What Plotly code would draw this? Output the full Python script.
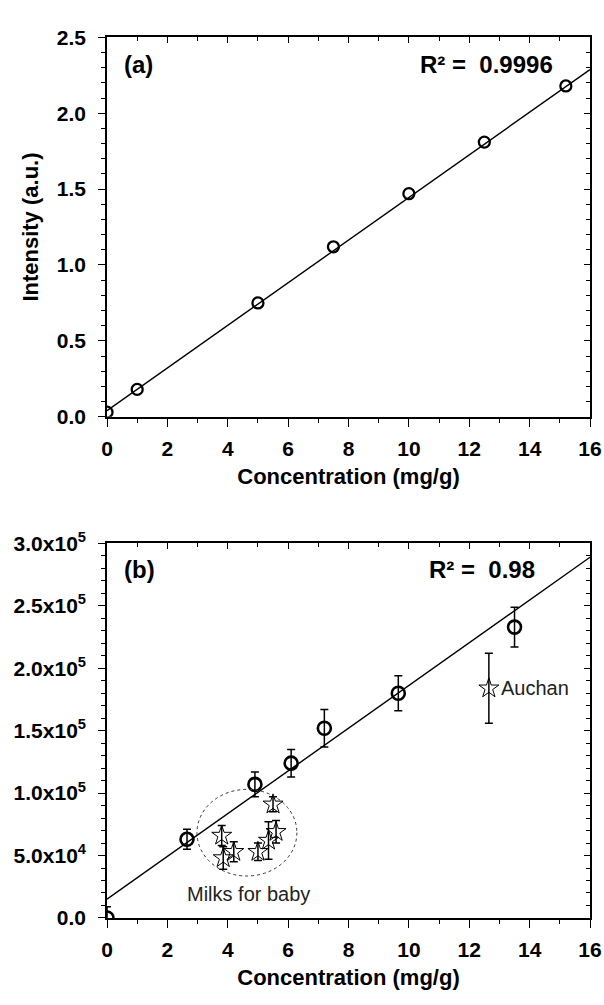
import plotly.graph_objects as go

# ---------------- data ----------------
# Panel (a): calibration
a_conc = [0, 1, 5, 7.5, 10, 12.5, 15.2]
a_intensity = [0.03, 0.18, 0.75, 1.12, 1.47, 1.81, 2.18]
a_fit = {"slope": 0.1405, "intercept": 0.04}
a_r2 = "0.9996"

# Panel (b): standard additions (circles)
b_conc = [0, 2.65, 4.9, 6.1, 7.2, 9.65, 13.5]
b_intensity = [0, 63000, 107000, 124000, 152000, 180000, 233000]
b_err = [9000, 8000, 10000, 11000, 15000, 14000, 16000]
b_fit = {"slope": 17125, "intercept": 15000}
b_r2 = "0.98"

# Panel (b): milk samples (stars)
milk_conc = [3.8, 3.85, 4.2, 5.0, 5.35, 5.6, 5.5]
milk_intensity = [66000, 48000, 53000, 53000, 62000, 69000, 91000]
milk_err = [8000, 9000, 8000, 7000, 15000, 9000, 6000]

auchan_conc = [12.65]
auchan_intensity = [184000]
auchan_err = [28000]

milk_region_x = [2.98, 6.29]
milk_region_y = [33600, 103000]

x_range = [0, 16]
a_yticks = [0.0, 0.5, 1.0, 1.5, 2.0, 2.5]
a_yticklabels = ["0.0", "0.5", "1.0", "1.5", "2.0", "2.5"]
b_yticks = [0, 50000, 100000, 150000, 200000, 250000, 300000]
b_yticklabels = ["0.0", "5.0x10<sup>4</sup>", "1.0x10<sup>5</sup>", "1.5x10<sup>5</sup>",
                 "2.0x10<sup>5</sup>", "2.5x10<sup>5</sup>", "3.0x10<sup>5</sup>"]
x_ticks = [0, 2, 4, 6, 8, 10, 12, 14, 16]

# ---------------- styling ----------------
FONT = "Liberation Sans, Arial, Helvetica, sans-serif"
W, H = 604, 1005
L, R = 107, 14
a_top, a_bot = 24, 413
b_top, b_bot = 543, 927
a_dom = [1 - a_bot / H, 1 - a_top / H]
b_dom = [1 - b_bot / H, 1 - b_top / H]

fig = go.Figure()

# panel (a)
fit_x = x_range
fig.add_trace(go.Scatter(
    x=fit_x, y=[a_fit["intercept"] + a_fit["slope"] * v for v in fit_x],
    mode="lines", line=dict(color="black", width=1.4),
    xaxis="x", yaxis="y", showlegend=False, hoverinfo="skip"))
fig.add_trace(go.Scatter(
    x=a_conc, y=a_intensity, mode="markers",
    marker=dict(symbol="circle-open", size=11, color="black", line=dict(width=2.3, color="black")),
    xaxis="x", yaxis="y", showlegend=False))

# panel (b)
fig.add_trace(go.Scatter(
    x=fit_x, y=[b_fit["intercept"] + b_fit["slope"] * v for v in fit_x],
    mode="lines", line=dict(color="black", width=1.4),
    xaxis="x2", yaxis="y2", showlegend=False, hoverinfo="skip"))
err_style = dict(type="data", thickness=1.5, width=4, color="black", visible=True)
fig.add_trace(go.Scatter(
    x=b_conc, y=b_intensity, mode="markers",
    error_y=dict(array=b_err, **err_style),
    marker=dict(symbol="circle-open", size=13, color="black", line=dict(width=2.6, color="black")),
    xaxis="x2", yaxis="y2", showlegend=False))
fig.add_trace(go.Scatter(
    x=milk_conc, y=milk_intensity, mode="markers",
    error_y=dict(array=milk_err, **err_style),
    marker=dict(symbol="star-open", size=15, color="black", line=dict(width=1, color="black")),
    xaxis="x2", yaxis="y2", showlegend=False))
fig.add_trace(go.Scatter(
    x=auchan_conc, y=auchan_intensity, mode="markers",
    error_y=dict(array=auchan_err, **err_style),
    marker=dict(symbol="star-open", size=15, color="black", line=dict(width=1, color="black")),
    xaxis="x2", yaxis="y2", showlegend=False))

# dummy traces for mirrored (inside-tick) axes
fig.add_trace(go.Scatter(x=[], y=[], xaxis="x3", yaxis="y3", showlegend=False))
fig.add_trace(go.Scatter(x=[], y=[], xaxis="x4", yaxis="y4", showlegend=False))

tickfont = dict(family=FONT, size=21, color="black")
titlefont = dict(family=FONT, size=22, color="black")


def bottom_x(dom_anchor, title):
    return dict(range=x_range, domain=[0, 1], anchor=dom_anchor,
                tickmode="array", tickvals=x_ticks, ticktext=["<b>%d</b>" % v for v in x_ticks],
                ticks="outside", ticklen=8, tickwidth=1.3, tickcolor="black",
                minor=dict(dtick=1, tick0=0, ticks="outside", ticklen=4, tickwidth=1.1, tickcolor="black"),
                showline=True, linecolor="black", linewidth=1.6, showgrid=False, zeroline=False,
                tickfont=tickfont, ticklabelstandoff=4,
                title=dict(text="<b>" + title + "</b>", font=titlefont, standoff=10))


def top_x(over, anchor):
    return dict(range=x_range, overlaying=over, anchor=anchor, side="top",
                tickmode="array", tickvals=x_ticks, showticklabels=False,
                ticks="inside", ticklen=6, tickwidth=1.1, tickcolor="black",
                minor=dict(dtick=1, tick0=0, ticks="inside", ticklen=4, tickwidth=1.0, tickcolor="black"),
                showline=True, linecolor="black", linewidth=1.6, showgrid=False, zeroline=False)


def right_y(over, anchor, dom, rng, vals, mdt):
    return dict(domain=dom, range=rng, overlaying=over, anchor=anchor, side="right",
                tickmode="array", tickvals=vals, showticklabels=False,
                ticks="inside", ticklen=6, tickwidth=1.1, tickcolor="black",
                minor=dict(dtick=mdt, tick0=0, ticks="inside", ticklen=4, tickwidth=1.0, tickcolor="black"),
                showline=True, linecolor="black", linewidth=1.6, showgrid=False, zeroline=False)


fig.update_layout(
    width=W, height=H,
    margin=dict(l=L, r=R, t=0, b=0),
    plot_bgcolor="white", paper_bgcolor="white",
    font=dict(family=FONT, color="black"),
    xaxis=bottom_x("y", "Concentration (mg/g)"),
    xaxis2=bottom_x("y2", "Concentration (mg/g)"),
    xaxis3=top_x("x", "y"),
    xaxis4=top_x("x2", "y2"),
    yaxis=dict(domain=a_dom, range=[0, 2.5], anchor="x",
               tickmode="array", tickvals=a_yticks, ticktext=["<b>%s</b>" % t for t in a_yticklabels],
               ticks="outside", ticklen=7, tickwidth=1.3, tickcolor="black",
               minor=dict(dtick=0.1, tick0=0, ticks="outside", ticklen=4, tickwidth=1.0, tickcolor="black"),
               showline=True, linecolor="black", linewidth=1.6, showgrid=False, zeroline=False,
               tickfont=tickfont, ticklabelstandoff=8,
               title=dict(text="<b>Intensity (a.u.)</b>", font=titlefont, standoff=12)),
    yaxis3=right_y("y", "x", a_dom, [0, 2.5], a_yticks, 0.1),
    yaxis2=dict(domain=b_dom, range=[0, 300000], anchor="x2",
                tickmode="array", tickvals=b_yticks, ticktext=["<b>%s</b>" % t for t in b_yticklabels],
                ticks="outside", ticklen=7, tickwidth=1.3, tickcolor="black",
                minor=dict(dtick=10000, tick0=0, ticks="outside", ticklen=4, tickwidth=1.0, tickcolor="black"),
                showline=True, linecolor="black", linewidth=1.6, showgrid=False, zeroline=False,
                tickfont=tickfont, ticklabelstandoff=8),
    yaxis4=right_y("y2", "x2", b_dom, [0, 300000], b_yticks, 10000),
)

# milk region ellipse
fig.add_shape(type="circle", xref="x2", yref="y2",
              x0=milk_region_x[0], x1=milk_region_x[1], y0=milk_region_y[0], y1=milk_region_y[1],
              line=dict(color="#333333", width=1, dash="dot"))

ann_big = dict(family=FONT, size=24, color="black")
ann_txt = dict(family=FONT, size=20, color="#222222")
fig.add_annotation(x=0.5, y=2.32, xref="x", yref="y", text="<b>(a)</b>", showarrow=False,
                   xanchor="left", yanchor="middle", font=ann_big)
fig.add_annotation(x=10.3, y=2.32, xref="x", yref="y", text="<b>R² =  %s</b>" % a_r2, showarrow=False,
                   xanchor="left", yanchor="middle", font=ann_big)
fig.add_annotation(x=0.5, y=279000, xref="x2", yref="y2", text="<b>(b)</b>", showarrow=False,
                   xanchor="left", yanchor="middle", font=ann_big)
fig.add_annotation(x=10.6, y=279000, xref="x2", yref="y2", text="<b>R² =  %s</b>" % b_r2, showarrow=False,
                   xanchor="left", yanchor="middle", font=ann_big)
fig.add_annotation(x=4.7, y=19000, xref="x2", yref="y2", text="Milks for baby", showarrow=False,
                   xanchor="center", yanchor="middle", font=ann_txt)
fig.add_annotation(x=13.0, y=184000, xref="x2", yref="y2", text="Auchan", showarrow=False,
                   xanchor="left", yanchor="middle", font=ann_txt)

fig.write_html("out.html")
